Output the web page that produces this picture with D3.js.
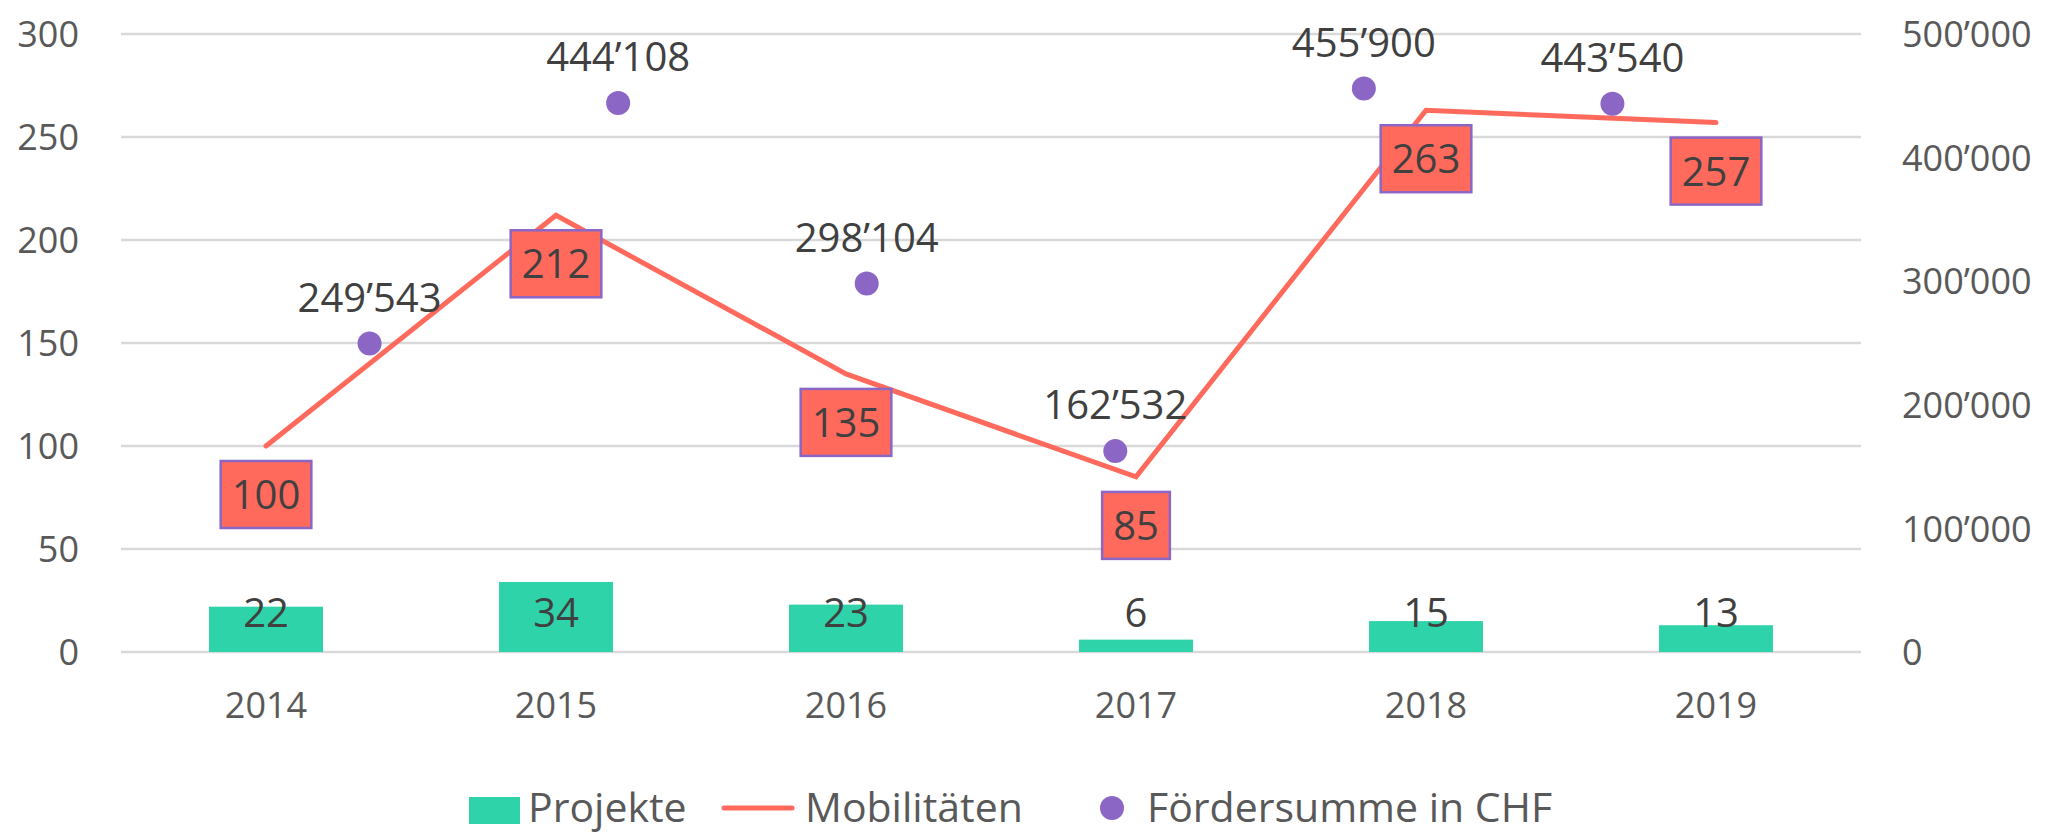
<!DOCTYPE html>
<html>
<head>
<meta charset="utf-8">
<script src="https://cdn.jsdelivr.net/npm/d3@7"></script>
<style>
  body { margin: 0; background: #fff; }
  svg { display: block; font-family: "Open Sans", sans-serif; }
  .grid { stroke: #d9d9d9; stroke-width: 2.5; }
  .tick-label { fill: #595959; font-size: 36px; }
  .data-label { fill: #404040; font-size: 40px; }
  .legend-label { fill: #595959; font-size: 41px; }
</style>
</head>
<body>
<svg id="chart"></svg>
<script>
// chart data
const years = ["2014", "2015", "2016", "2017", "2018", "2019"];
const projekte = [22, 34, 23, 6, 15, 13];
const mobilitaeten = [100, 212, 135, 85, 263, 257];
const foerdersumme = [249543, 444108, 298104, 162532, 455900, 443540];
const leftTicks = [0, 50, 100, 150, 200, 250, 300];
const rightTicks = [0, 100000, 200000, 300000, 400000, 500000];
const legendNames = ["Projekte", "Mobilitäten", "Fördersumme in CHF"];

const W = 2049, H = 834;
const plotLeft = 121, plotRight = 1861, plotTop = 34, plotBottom = 652;

const green = "#2fd3a9", coral = "#ff6a5d", purple = "#8b66c5";

const chf = d3.formatLocale({ decimal: ".", thousands: "’", grouping: [3], currency: ["", ""] }).format(",d");

let svg = d3.select("#chart").attr("width", W).attr("height", H);

let x = d3.scaleBand().domain(years).range([plotLeft, plotRight])
  .paddingInner(0.607).paddingOuter(0.3035);
let xc = d => x(d) + x.bandwidth() / 2;
// scatter series sits on its own x axis (1..6 across 0..7)
let xs = d3.scaleLinear().domain([0, years.length + 1]).range([plotLeft, plotRight]);
let yL = d3.scaleLinear().domain([0, 300]).range([plotBottom, plotTop]);
let yR = d3.scaleLinear().domain([0, 500000]).range([plotBottom, plotTop]);

// grid
svg.append("g").selectAll("line").data(leftTicks).join("line")
  .attr("class", "grid")
  .attr("x1", plotLeft).attr("x2", plotRight)
  .attr("y1", d => yL(d)).attr("y2", d => yL(d));

// left axis
let axL = svg.append("g").attr("transform", "translate(79,0)")
  .call(d3.axisLeft(yL).tickValues(leftTicks).tickSize(0).tickPadding(0));
axL.select(".domain").remove();
axL.attr("font-size", null).attr("font-family", null);
axL.selectAll("text").attr("class", "tick-label").attr("dy", "0.35em");

// right axis
let axR = svg.append("g").attr("transform", "translate(1902,0)")
  .call(d3.axisRight(yR).tickValues(rightTicks).tickFormat(chf).tickSize(0).tickPadding(0));
axR.select(".domain").remove();
axR.attr("font-size", null).attr("font-family", null);
axR.selectAll("text").attr("class", "tick-label").attr("dy", "0.35em");

// x axis
let axX = svg.append("g").attr("transform", "translate(0," + plotBottom + ")")
  .call(d3.axisBottom(x).tickSize(0).tickPadding(0));
axX.select(".domain").remove();
axX.attr("font-size", null).attr("font-family", null);
axX.selectAll("text").attr("class", "tick-label").attr("y", 66).attr("dy", null);

// bars
svg.append("g").selectAll("rect").data(projekte).join("rect")
  .attr("x", (d, i) => x(years[i]))
  .attr("width", x.bandwidth())
  .attr("y", d => yL(d))
  .attr("height", d => yL(0) - yL(d))
  .attr("fill", green);

svg.append("g").selectAll("text").data(projekte).join("text")
  .attr("class", "data-label")
  .attr("text-anchor", "middle")
  .attr("x", (d, i) => xc(years[i]))
  .attr("y", yL(0) - 25)
  .text(d => d);

// line
let line = d3.line().x((d, i) => xc(years[i])).y(d => yL(d));
svg.append("path").datum(mobilitaeten)
  .attr("d", line)
  .attr("fill", "none")
  .attr("stroke", coral)
  .attr("stroke-width", 5)
  .attr("stroke-linecap", "round")
  .attr("stroke-linejoin", "miter");

// dots
svg.append("g").selectAll("circle").data(foerdersumme).join("circle")
  .attr("cx", (d, i) => xs(i + 1))
  .attr("cy", d => yR(d))
  .attr("r", 12)
  .attr("fill", purple);

svg.append("g").selectAll("text").data(foerdersumme).join("text")
  .attr("class", "data-label")
  .attr("text-anchor", "middle")
  .attr("x", (d, i) => xs(i + 1))
  .attr("y", d => yR(d) - 32)
  .text(d => chf(d));

// line labels in boxes
let boxes = svg.append("g").selectAll("g").data(mobilitaeten).join("g")
  .attr("transform", (d, i) => "translate(" + xc(years[i]) + "," + (yL(d) + 15) + ")");
boxes.each(function (d) {
  let g = d3.select(this);
  let r = g.append("rect");
  let t = g.append("text")
    .attr("class", "data-label")
    .attr("text-anchor", "middle")
    .attr("y", 48)
    .text(d);
  let w = t.node().getComputedTextLength() + 22;
  r.attr("x", -w / 2).attr("y", 0).attr("width", w).attr("height", 67)
    .attr("fill", coral).attr("stroke", purple).attr("stroke-width", 2.5);
});

// legend
let lg = svg.append("g");
lg.append("rect").attr("x", 469).attr("y", 797).attr("width", 51).attr("height", 27).attr("fill", green);
lg.append("text").attr("class", "legend-label").attr("x", 528).attr("y", 822).text(legendNames[0]);
lg.append("line").attr("x1", 724).attr("x2", 792).attr("y1", 808).attr("y2", 808)
  .attr("stroke", coral).attr("stroke-width", 5).attr("stroke-linecap", "round");
lg.append("text").attr("class", "legend-label").attr("x", 805).attr("y", 822).text(legendNames[1]);
lg.append("circle").attr("cx", 1112).attr("cy", 808).attr("r", 12).attr("fill", purple);
lg.append("text").attr("class", "legend-label").attr("x", 1147).attr("y", 822).text(legendNames[2]);
</script>
</body>
</html>
